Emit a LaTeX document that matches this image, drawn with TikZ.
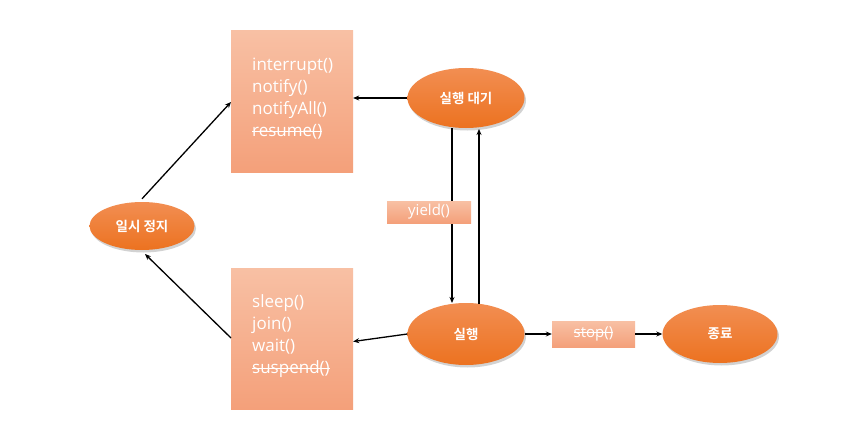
\documentclass[tikz,border=0pt]{standalone}
\usepackage{fontspec}
\setmainfont{Open Sans}
\newfontfamily\krfont{Noto Sans CJK KR}[BoldFont={* Bold}]
\usetikzlibrary{shadows,arrows.meta,shapes.geometric}
\newcommand\mystrike[1]{\begingroup\setbox0\hbox{#1}\rlap{\raisebox{0.28em}{\rule{\wd0}{0.9pt}}}\box0\endgroup}
\definecolor{ellTop}{RGB}{242,142,82}
\definecolor{ellBot}{RGB}{236,114,32}
\definecolor{boxTop}{RGB}{248,192,164}
\definecolor{boxBot}{RGB}{244,160,122}
\begin{document}
\begin{tikzpicture}[x=1pt,y=-1pt,
  state/.style={ellipse,draw=none,top color=ellTop,bottom color=ellBot,
    drop shadow={opacity=0.35,shadow xshift=1.5pt,shadow yshift=-2.5pt},
    text=white,font=\krfont\bfseries\fontsize{13.5}{15}\selectfont,inner sep=0pt},
  mbox/.style={rectangle,draw=none,top color=boxTop,bottom color=boxBot,inner sep=0pt},
  mtext/.style={text=white,font=\fontsize{17}{22}\selectfont,align=left,anchor=west,inner sep=0pt},
  conn/.style={draw=black,line width=1.3pt,-{Stealth[length=6pt,width=5pt]}}
]
\useasboundingbox (0,0) rectangle (844,444);
\fill[white] (0,0) rectangle (844,444);
% ellipses
\node[state,minimum width=117pt,minimum height=60pt] (wait) at (466,98) {실행 대기};
\node[state,minimum width=105pt,minimum height=48pt] (pause) at (142,226) {일시 정지};
\node[state,minimum width=117pt,minimum height=62pt] (run) at (466,334) {실행};
\node[state,minimum width=115pt,minimum height=58pt] (end) at (720,334) {종료};
% boxes
\node[mbox,minimum width=122pt,minimum height=141pt] (top) at (292,101.5) {};
\node[mtext] (toptext) at (252,98.5) {interrupt()\\notify()\\notifyAll()\\\mystrike{resume()}};
\node[mbox,minimum width=122pt,minimum height=141pt] (bot) at (292,338.5) {};
\node[mtext] (bottext) at (252,336) {sleep()\\join()\\wait()\\\mystrike{suspend()}};
% vertical connectors
\coordinate (wl) at (452,128);
\coordinate (rl) at (452,303);
\coordinate (wr) at (479,129);
\coordinate (rr) at (479,304);
\draw[conn] (wl) -- (rl);
\draw[conn] (rr) -- (wr);
% yield box
\node[mbox,minimum width=84pt,minimum height=22pt] (yield) at (429,212) {};
\node[text=white,font=\fontsize{15}{16}\selectfont,inner sep=0pt] (yieldtext) at (yield) {yield()};
% stop box
\node[mbox,minimum width=83pt,minimum height=26pt] (stop) at (593.5,334) {};
\node[text=white,font=\fontsize{15}{16}\selectfont,inner sep=0pt] (stoptext) at (stop) {\mystrike{stop()}};
% connectors
\draw[conn] (wait.west) -- (top.east |- wait.west);
\draw[conn] (run.west) -- ([yshift=-3pt]bot.east);
\draw[conn] (pause.north) ++(0,-3) coordinate (pn) (pn) -- (231,102);
\draw[conn] (231,338) -- (145,254);
\draw[conn] (run.east) -- (stop.west);
\draw[conn] (stop.east) -- (end.west);
\end{tikzpicture}
\end{document}
